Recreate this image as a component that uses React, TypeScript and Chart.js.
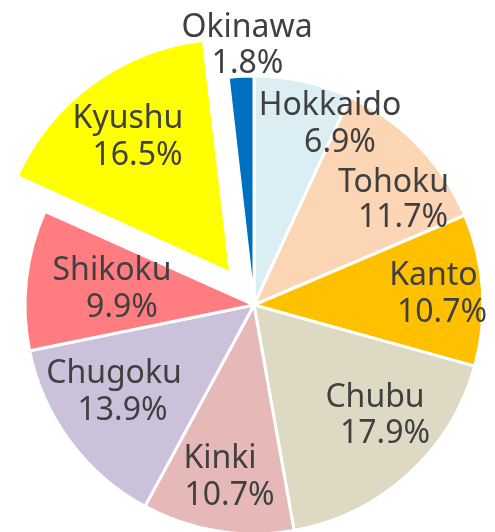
import React, { useEffect, useRef } from 'react';
import { Chart, registerables } from 'chart.js';

Chart.register(...registerables);

const categories = ['Hokkaido', 'Tohoku', 'Kanto', 'Chubu', 'Kinki', 'Chugoku', 'Shikoku', 'Kyushu', 'Okinawa'];
const shares = [6.9, 11.7, 10.7, 17.9, 10.7, 13.9, 9.9, 16.5, 1.8];

const sliceColors = ['#DAEEF3', '#FCD5B5', '#FFC000', '#DDD9C3', '#E6B9B8', '#CCC1DA', '#FF7C80', '#FFFF00', '#0070C0'];
// Chart.js scales the arc offset internally (offset/4 * (1 + fix)), so 158 gives ~45px
const sliceOffsets = [0, 0, 0, 0, 0, 0, 0, 158, 0];

// label placement relative to the pie centre: [name dx, name baseline dy, pct dx, pct baseline dy]
const labelLayout: number[][] = [
  [76, -190, 86, -153],
  [139.5, -113, 149, -78],
  [179.5, -20, 188, 17],
  [121, 102, 131, 138],
  [-34, 163, -24.5, 200],
  [-140, 78, -131.5, 115],
  [-142, -25, -132, 12],
  [-126, -177, -116.5, -140],
  [-7, -268, -6.5, -232],
];

const labelPlugin = {
  id: 'sliceLabels',
  afterDatasetsDraw(chart: any) {
    const meta = chart.getDatasetMeta(0);
    const first = meta.data[0];
    if (!first) return;
    const cx = first.x;
    const cy = first.y;
    const ctx = chart.ctx;
    ctx.save();
    ctx.font = '32px "Noto Sans"';
    ctx.fillStyle = '#404040';
    ctx.textAlign = 'center';
    ctx.textBaseline = 'alphabetic';
    categories.forEach((name, i) => {
      const l = labelLayout[i];
      ctx.fillText(name, cx + l[0], cy + l[1]);
      ctx.fillText(shares[i].toFixed(1) + '%', cx + l[2], cy + l[3]);
    });
    ctx.restore();
  },
};

export default function App() {
  const ref = useRef<HTMLCanvasElement | null>(null);
  useEffect(() => {
    if (!ref.current) return;
    const chart = new Chart(ref.current, {
      type: 'pie',
      data: {
        labels: categories,
        datasets: [
          {
            data: shares,
            backgroundColor: sliceColors,
            borderColor: '#ffffff',
            borderWidth: 3,
            offset: sliceOffsets,
            radius: 229,
          } as any,
        ],
      },
      options: {
        responsive: false,
        animation: false,
        layout: { padding: { left: 13, right: 0, top: 78, bottom: 0 } },
        plugins: {
          legend: { display: false },
          tooltip: { enabled: false },
        },
      },
      plugins: [labelPlugin],
    });
    return () => chart.destroy();
  }, []);
  return (
    <div style={{ position: 'absolute', left: 0, top: 0, width: 495, height: 532, background: '#ffffff' }}>
      <canvas ref={ref} width={495} height={532} style={{ width: 495, height: 532, display: 'block' }} />
    </div>
  );
}
